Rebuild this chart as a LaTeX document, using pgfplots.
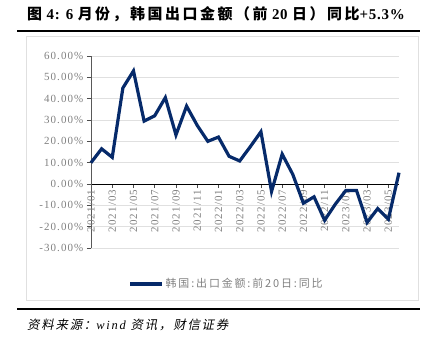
\documentclass[border=0pt]{standalone}
\usepackage{fontspec}
\usepackage{pgfplots}
\pgfplotsset{compat=1.18}
\setmainfont{Liberation Serif}
\newfontfamily\cjk{Noto Sans CJK SC}
\newfontfamily\cjktitle[LetterSpace=17]{Noto Sans CJK SC}
\newfontfamily\cjkleg[LetterSpace=17]{Noto Sans CJK SC}
\newfontfamily\cjkit[FakeSlant=0.2,LetterSpace=14]{Noto Sans CJK SC}
\newfontfamily\serifsp[LetterSpace=10]{Liberation Serif}
\newfontfamily\seriftitle[LetterSpace=5]{Liberation Serif}
\definecolor{navy}{HTML}{062A6A}
\definecolor{lbl}{HTML}{808080}
\pgfplotstableread{
x y
0 10
1 16.5
2 12.5
3 45
4 53
5 29.5
6 32
7 40.5
8 23
9 36.5
10 27.5
11 20
12 22
13 13
14 10.8
15 17.5
16 24.5
17 -3.5
18 14
19 4.5
20 -9
21 -6
22 -17
23 -9.5
24 -3
25 -3
26 -18
27 -11.5
28 -16.5
29 5.3
}\kordata
\begin{document}
\begin{tikzpicture}[x=1bp,y=1bp]
\path[use as bounding box] (0,0) rectangle (431,340);
\node[anchor=west, font=\fontsize{15}{16}\selectfont\bfseries, inner sep=0] at (27,326) {\seriftitle{\cjktitle 图} 4: 6 {\cjktitle 月份，韩国出口金额（前} 20 {\cjktitle 日）同比}+5.3\%};
\draw[line width=1.2bp] (17,309) -- (420,309);
\draw[black!12, line width=0.8bp] (26,40) rectangle (418,304);
\begin{axis}[
  at={(91bp,92bp)}, anchor=south west,
  width=308bp, height=192bp, scale only axis,
  xmin=0, xmax=29, ymin=-30, ymax=60,
  axis y line=left, axis x line=middle,
  axis line style={-},
  hide obscured x ticks=false,
  y axis line style={draw=black!65, line width=0.9bp},
  x axis line style={draw=black, line width=0.9bp},
  ytick={-30,-20,...,60},
  yticklabel={\pgfmathprintnumber[fixed,fixed zerofill,precision=2,assume math mode=true]{\tick}\%},
  xtick={0,2,...,28},
  xticklabels={2021/01,2021/03,2021/05,2021/07,2021/09,2021/11,2022/01,2022/03,2022/05,2022/07,2022/09,2022/11,2023/01,2023/03,2023/05},
  x tick label style={rotate=90, anchor=east, font=\fontsize{11}{12}\selectfont\serifsp, text=lbl, inner sep=1.5bp},
  y tick label style={font=\fontsize{11}{12}\selectfont\serifsp, text=lbl, inner sep=3.5bp},
  tick align=outside,
  major tick length=4bp,
  tick style={draw=black!70, line width=0.8bp},
  ymajorgrids,
  grid style={draw=black!12, line width=0.8bp},
  legend style={at={(0.44,-0.1875)}, anchor=center, draw=none, fill=none,
    font=\fontsize{11}{12}\selectfont\cjkleg, text=lbl},
  legend image code/.code={\draw[#1, line width=3.2bp] (0bp,0bp) -- (32bp,0bp);},
  clip=false,
]
\addplot[navy, line width=3.2bp, line join=miter] table[x=x,y=y] {\kordata};
\addlegendentry{韩国:出口金额:前20日:同比}
\end{axis}
\draw[line width=1.2bp] (17,31) -- (420,31);
\node[anchor=west, font=\fontsize{12.5}{14}\selectfont\itshape, inner sep=0] at (27,15) {{\cjkit 资料来源：}\addfontfeature{LetterSpace=14}wind {\cjkit 资讯，财信证券}};
\end{tikzpicture}
\end{document}
